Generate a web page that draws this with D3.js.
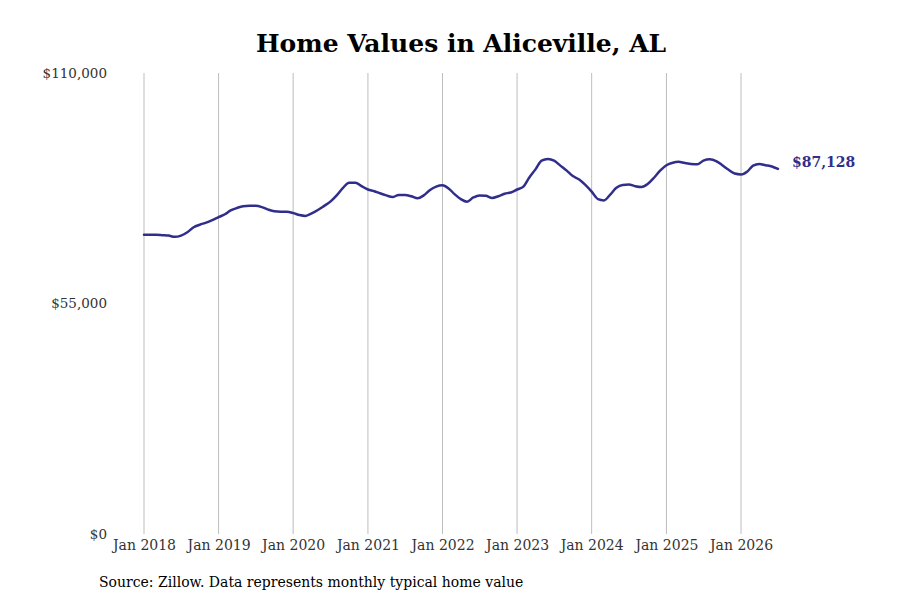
<!DOCTYPE html>
<html>
<head>
<meta charset="utf-8">
<script src="https://cdn.jsdelivr.net/npm/d3@7"></script>
<style>
  html, body { margin: 0; padding: 0; background: #fff; }
  svg { display: block; }
</style>
</head>
<body>
<svg id="chart" width="900" height="600"></svg>
<script>
const titleText = "Home Values in Aliceville, AL";
const sourceText = "Source: Zillow. Data represents monthly typical home value";
const startMonth = "2018-01";
const values = [
  71400, 71400, 71400, 71300, 71200, 70900, 71200, 72000, 73200, 73800, 74300, 74900,
  75600, 76300, 77200, 77800, 78200, 78300, 78300, 78000, 77400, 77000, 76900, 76900,
  76600, 76100, 75900, 76500, 77300, 78300, 79300, 80800, 82600, 83800, 83800, 83000,
  82200, 81800, 81300, 80800, 80400, 80900, 80900, 80600, 80100, 80800, 82100, 82900,
  83200, 82400, 81100, 79900, 79300, 80300, 80800, 80700, 80200, 80600, 81200, 81500,
  82200, 82900, 85000, 87000, 89100, 89500, 89100, 87900, 86700, 85400, 84600, 83300,
  81700, 79900, 79600, 81000, 82600, 83300, 83400, 83000, 82800, 83500, 85000, 86700,
  88000, 88600, 88800, 88500, 88300, 88200, 89100, 89400, 89000, 88000, 86900, 86000,
  85800, 86500, 87900, 88300, 88000, 87700, 87128
];
const yTicks = [0, 55000, 110000];
const xTickYears = [2018, 2019, 2020, 2021, 2022, 2023, 2024, 2025, 2026];

const parseMonth = d3.timeParse("%Y-%m");
const start = parseMonth(startMonth);
const data = values.map((v, i) => ({ date: d3.timeMonth.offset(start, i), value: v }));

const svg = d3.select("#chart");
const lineColor = "#312e8b";
const font = "DejaVu Serif, serif";

const x = d3.scaleTime()
  .domain([start, data[data.length - 1].date])
  .range([144, 778]);
const y = d3.scaleLinear()
  .domain([0, 110000])
  .range([534, 73]);

// vertical gridlines
svg.append("g")
  .selectAll("line")
  .data(xTickYears.map(yr => new Date(yr, 0, 1)))
  .join("line")
  .attr("x1", d => x(d)).attr("x2", d => x(d))
  .attr("y1", y(110000)).attr("y2", y(0))
  .attr("stroke", "#bdbdbd")
  .attr("stroke-width", 1);

// x axis labels
const xAxis = d3.axisBottom(x)
  .tickValues(xTickYears.map(yr => new Date(yr, 0, 1)))
  .tickFormat(d3.timeFormat("Jan %Y"))
  .tickSize(0)
  .tickPadding(6);
const gx = svg.append("g").attr("transform", `translate(0,${y(0)})`).call(xAxis);
gx.select(".domain").remove();
gx.selectAll("text")
  .attr("font-family", font)
  .attr("font-size", 14)
  .attr("fill", "#333");

// y axis labels
const yAxis = d3.axisLeft(y)
  .tickValues(yTicks)
  .tickFormat(d => "$" + d3.format(",")(d))
  .tickSize(0)
  .tickPadding(0);
const gy = svg.append("g").attr("transform", "translate(107,0)").call(yAxis);
gy.select(".domain").remove();
gy.selectAll("text")
  .attr("font-family", font)
  .attr("font-size", 13.5)
  .attr("fill", "#333");

// line
const line = d3.line()
  .x(d => x(d.date))
  .y(d => y(d.value))
  .curve(d3.curveMonotoneX);
svg.append("path")
  .datum(data)
  .attr("fill", "none")
  .attr("stroke", lineColor)
  .attr("stroke-width", 2.5)
  .attr("stroke-linejoin", "round")
  .attr("stroke-linecap", "round")
  .attr("d", line);

// end label
const last = data[data.length - 1];
svg.append("text")
  .attr("x", x(last.date) + 14)
  .attr("y", y(last.value) - 6)
  .attr("dominant-baseline", "middle")
  .attr("font-family", font)
  .attr("font-weight", "bold")
  .attr("font-size", 14)
  .attr("fill", lineColor)
  .text("$" + d3.format(",")(last.value));

// title
svg.append("text")
  .attr("x", 461)
  .attr("y", 52)
  .attr("text-anchor", "middle")
  .attr("font-family", font)
  .attr("font-weight", "bold")
  .attr("font-size", 25)
  .attr("fill", "#000")
  .text(titleText);

// source
svg.append("text")
  .attr("x", 99)
  .attr("y", 587)
  .attr("font-family", font)
  .attr("font-size", 14)
  .attr("fill", "#000")
  .text(sourceText);
</script>
</body>
</html>
